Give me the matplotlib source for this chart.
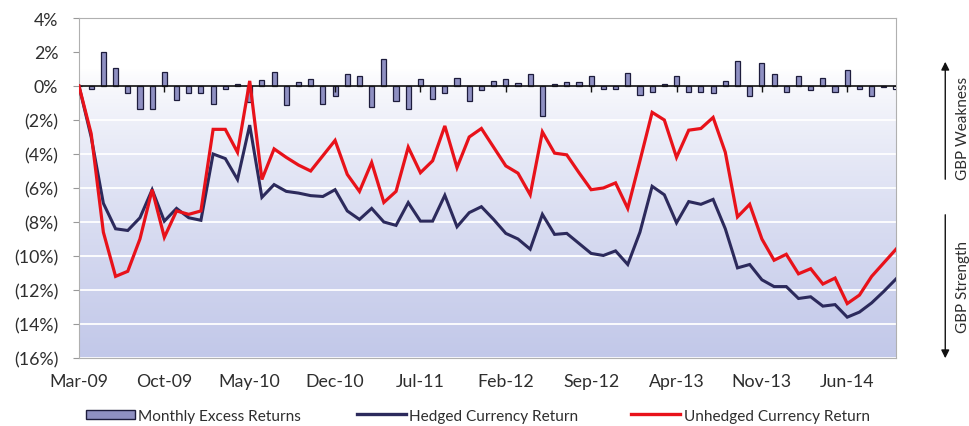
import numpy as np
import matplotlib
matplotlib.use("Agg")
import matplotlib.pyplot as plt
from matplotlib.patches import Patch
from matplotlib.lines import Line2D

plt.rcParams['font.family'] = ['Lato', 'DejaVu Sans']

# monthly series, Mar-09 .. Oct-14 (%)
excess = [0, -0.2, 2.0, 1.08, -0.4, -1.38, -1.38, 0.83, -0.83, -0.4,
          -0.4, -1.08, -0.2, 0.12, -0.93, 0.35, 0.8, -1.1, 0.26, 0.44,
          -1.07, -0.56, 0.7, 0.56, -1.24, 1.6, -0.91, -1.35, 0.4, -0.79,
          -0.43, 0.47, -0.9, -0.26, 0.3, 0.41, 0.16, 0.69, -1.75, 0.12,
          0.26, 0.26, 0.61, -0.18, -0.18, 0.76, -0.55, -0.35, 0.14, 0.59,
          -0.33, -0.33, -0.43, 0.3, 1.47, -0.59, 1.38, 0.69, -0.33, 0.59,
          -0.22, 0.49, -0.33, 0.94, -0.2, -0.59, -0.05, -0.15]

hedged = [0, -3.0, -6.9, -8.4, -8.5, -7.75, -6.1, -7.95, -7.2, -7.75,
          -7.9, -4.0, -4.27, -5.5, -2.3, -6.55, -5.8, -6.2, -6.3, -6.45,
          -6.5, -6.1, -7.35, -7.85, -7.2, -8.0, -8.2, -6.86, -7.95, -7.95,
          -6.43, -8.28, -7.45, -7.1, -7.85, -8.67, -9.0, -9.6, -7.55, -8.73,
          -8.67, -9.26, -9.85, -9.97, -9.7, -10.5, -8.6, -5.9, -6.4, -8.05,
          -6.8, -6.96, -6.67, -8.4, -10.7, -10.5, -11.4, -11.8, -11.8, -12.5,
          -12.4, -12.95, -12.86, -13.6, -13.3, -12.76, -12.08, -11.35]

unhedged = [0, -2.8, -8.6, -11.2, -10.9, -9.0, -6.1, -8.9, -7.35, -7.55,
            -7.35, -2.55, -2.55, -3.9, 0.3, -5.5, -3.7, -4.2, -4.65, -5.0,
            -4.1, -3.2, -5.2, -6.2, -4.5, -6.85, -6.2, -3.6, -5.1, -4.4,
            -2.35, -4.8, -3.0, -2.5, -3.6, -4.7, -5.13, -6.4, -2.7, -3.95,
            -4.05, -5.1, -6.1, -6.0, -5.7, -7.2, -4.4, -1.55, -2.0, -4.2,
            -2.6, -2.5, -1.85, -3.9, -7.7, -6.96, -9.0, -10.25, -9.9, -11.05,
            -10.75, -11.65, -11.3, -12.8, -12.3, -11.2, -10.4, -9.6]

tick_labels = ['Mar-09', 'Oct-09', 'May-10', 'Dec-10', 'Jul-11', 'Feb-12',
               'Sep-12', 'Apr-13', 'Nov-13', 'Jun-14']
y_ticks = list(range(-16, 5, 2))

navy = '#2c2a5c'
red = '#e8121a'
bar_fill = '#8f90c2'
bar_edge = '#1d1c3c'

fig = plt.figure(figsize=(9.69, 4.27), dpi=100)
ax = fig.add_axes([0.0815, 0.1593, 0.8432, 0.7962])

x = np.arange(len(excess))

# plot area fill: white at the top fading to lavender at the bottom
f = np.linspace(0, 1, 256).reshape(-1, 1)
t = np.clip((0.85 - f) / 0.85, 0, 1) ** 0.75
top = np.array([1.0, 1.0, 1.0])
bottom = np.array([194, 200, 233]) / 255
grad = top * (1 - t[..., None]) + bottom * t[..., None]
ax.imshow(grad, extent=[0, 1, 0, 1], transform=ax.transAxes,
          aspect='auto', origin='lower', zorder=0)

for v in y_ticks:
    if v < 0:
        ax.axhline(v, color='white', lw=1.3, zorder=1)

colors = [bar_fill] * len(excess)
colors[-1] = 'white'
ax.bar(x, excess, width=0.42, color=colors, edgecolor=bar_edge,
       linewidth=0.9, zorder=3)

# zero line with its category ticks
ax.axhline(0, color='#111111', lw=1.2, zorder=4)
major = np.arange(0, len(excess), 7)
ax.vlines(major, -0.35, 0, color='#111111', lw=1.0, zorder=4)

ax.plot(x, hedged, color=navy, lw=2.2, zorder=5, solid_joinstyle='miter')
ax.plot(x, unhedged, color=red, lw=2.3, zorder=6, solid_joinstyle='miter')

ax.set_xlim(0, len(excess) - 1)
ax.set_ylim(-16, 4)
ax.set_xticks(major)
ax.set_xticklabels(tick_labels)
ax.set_yticks(y_ticks)
ax.set_yticklabels([f'({-v}%)' if v < 0 else f'{v}%' for v in y_ticks])
ax.tick_params(axis='x', length=0, pad=11, labelsize=12.8, labelcolor='#2e2e2e')
ax.tick_params(axis='y', length=4, color='#999999', pad=11, labelsize=12.8,
               labelcolor='#2e2e2e')
for s in ax.spines.values():
    s.set_color('#b0b0b0')
    s.set_linewidth(0.8)

# legend entries laid out along the bottom
fs = 11.1
ly = 0.024
fig.legend(handles=[Patch(facecolor=bar_fill, edgecolor=bar_edge, lw=1.0)],
           labels=['Monthly Excess Returns'], loc='center left',
           bbox_to_anchor=(0.074, ly), frameon=False, fontsize=fs,
           handlelength=3.2, handleheight=0.55, handletextpad=0.2,
           labelcolor='#2e2e2e')
fig.legend(handles=[Line2D([], [], color=navy, lw=2.4)],
           labels=['Hedged Currency Return'], loc='center left',
           bbox_to_anchor=(0.354, ly), frameon=False, fontsize=fs,
           handlelength=3.2, handletextpad=0.2, labelcolor='#2e2e2e')
fig.legend(handles=[Line2D([], [], color=red, lw=2.4)],
           labels=['Unhedged Currency Return'], loc='center left',
           bbox_to_anchor=(0.637, ly), frameon=False, fontsize=fs,
           handlelength=3.2, handletextpad=0.2, labelcolor='#2e2e2e')

# direction arrows on the right
arrow = dict(arrowstyle='-|>', color='#111111', lw=1.0, mutation_scale=12)
ax.annotate('', xy=(0.9755, 1 - 60 / 427), xytext=(0.9755, 1 - 183 / 427),
            xycoords='figure fraction', arrowprops=arrow)
ax.annotate('', xy=(0.9755, 1 - 362 / 427), xytext=(0.9755, 1 - 213 / 427),
            xycoords='figure fraction', arrowprops=arrow)
fig.text(0.994, 1 - 128 / 427, 'GBP Weakness', rotation=90, ha='center',
         va='center', fontsize=11, color='#2e2e2e')
fig.text(0.994, 1 - 287 / 427, 'GBP Strength', rotation=90, ha='center',
         va='center', fontsize=11, color='#2e2e2e')

fig.savefig('out.png', dpi=100)
